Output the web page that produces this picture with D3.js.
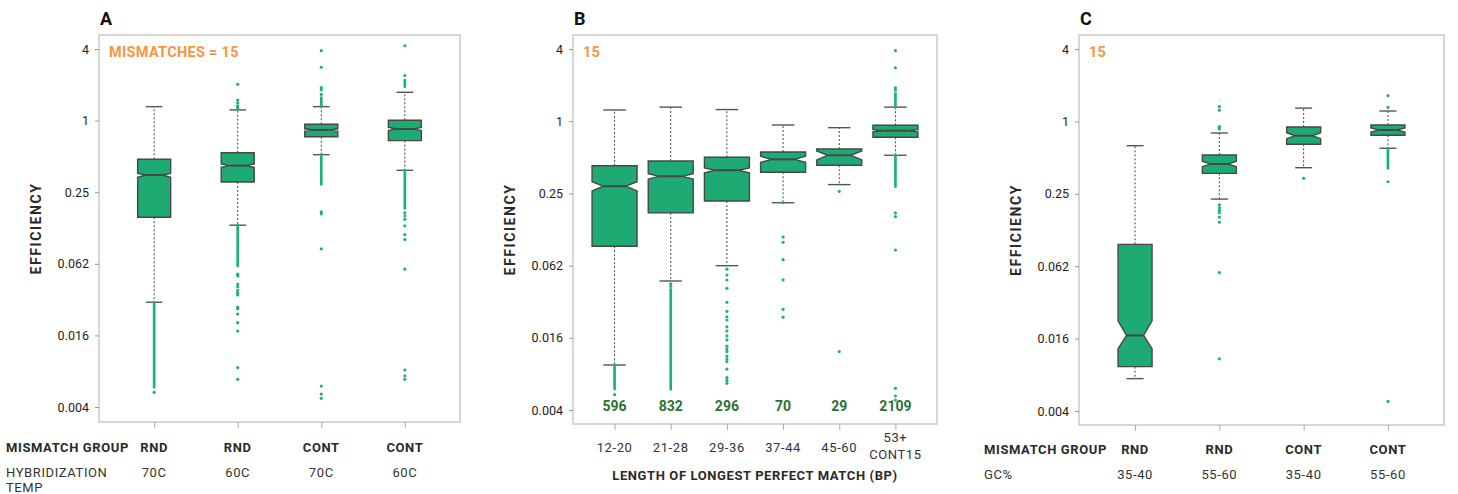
<!DOCTYPE html>
<html>
<head>
<meta charset="utf-8">
<script src="https://cdn.jsdelivr.net/npm/d3@7"></script>
<style>
  body { margin: 0; background: #fff; }
  svg { display: block; font-family: Roboto, "DejaVu Sans", sans-serif; }
</style>
</head>
<body>
<div id="chart"></div>
<script>
// y ticks (log2 axis)
const yTicks = [4, 1, 0.25, 0.0625, 0.015625, 0.00390625];
const yTickLabels = ["4", "1", "0.25", "0.062", "0.016", "0.004"];

// box stats: [low whisker, q1, notch low, median, notch high, q3, high whisker]
// panel A
const groupA = ["RND", "RND", "CONT", "CONT"];
const tempA = ["70C", "60C", "70C", "60C"];
const boxesA = [
  [0.0297, 0.154, 0.333, 0.349, 0.360, 0.473, 1.31],
  [0.132, 0.305, 0.405, 0.418, 0.432, 0.537, 1.23],
  [0.517, 0.732, 0.815, 0.833, 0.853, 0.931, 1.31],
  [0.382, 0.678, 0.825, 0.850, 0.875, 1.006, 1.73]
];
// dense outlier columns [from, to]
const runsA = [
  [[0.00572, 0.0297]],
  [[0.060, 0.132]],
  [[0.291, 0.517], [1.33, 1.56]],
  [[0.183, 0.382], [1.93, 2.19]]
];
const outliersA = [
  [0.00519],
  [2.02, 1.49, 1.41, 1.33, 1.28, 0.0511, 0.0494, 0.0422, 0.0401, 0.0373, 0.0355, 0.0342,
   0.0270, 0.0262, 0.0236, 0.0200, 0.0170, 0.00838, 0.00668],
  [3.87, 2.81, 1.89, 1.81, 1.66, 0.171, 0.164, 0.0835, 0.00586, 0.00502, 0.00462],
  [4.26, 2.39, 0.168, 0.158, 0.148, 0.130, 0.110, 0.100, 0.0563, 0.00800, 0.00713, 0.00668]
];

// panel B
const lengthB = [["12-20"], ["21-28"], ["29-36"], ["37-44"], ["45-60"], ["53+", "CONT15"]];
const countsB = [596, 832, 296, 70, 29, 2109];
const boxesB = [
  [0.00927, 0.0905, 0.262, 0.287, 0.313, 0.425, 1.24],
  [0.0465, 0.172, 0.330, 0.347, 0.365, 0.466, 1.31],
  [0.0624, 0.216, 0.372, 0.390, 0.407, 0.500, 1.25],
  [0.209, 0.375, 0.454, 0.481, 0.510, 0.553, 0.930],
  [0.296, 0.429, 0.475, 0.520, 0.565, 0.586, 0.883],
  [0.520, 0.734, 0.815, 0.833, 0.850, 0.924, 1.31]
];
const runsB = [
  [[0.00584, 0.00927]],
  [[0.00581, 0.0396]],
  [],
  [],
  [],
  [[0.284, 0.520], [1.31, 1.71]]
];
const outliersB = [
  [0.00524],
  [0.0440, 0.0420],
  [0.0583, 0.0522, 0.0474, 0.0404, 0.0309, 0.0260, 0.0234, 0.0220, 0.0193, 0.0178, 0.0162,
   0.0150, 0.0133, 0.0126, 0.0120, 0.0110, 0.0104, 0.00988, 0.00857, 0.00727, 0.00689, 0.00652],
  [0.209, 0.108, 0.0977, 0.0700, 0.0476, 0.0270, 0.0232],
  [0.260, 0.0120],
  [3.87, 2.79, 1.90, 1.82, 0.172, 0.160, 0.0843, 0.00592, 0.00511, 0.00473]
];

// panel C
const groupC = ["RND", "RND", "CONT", "CONT"];
const gcC = ["35-40", "55-60", "35-40", "55-60"];
const boxesC = [
  [0.00726, 0.00913, 0.0129, 0.0166, 0.0220, 0.0950, 0.628],
  [0.226, 0.370, 0.420, 0.442, 0.466, 0.526, 0.801],
  [0.412, 0.645, 0.718, 0.760, 0.806, 0.898, 1.29],
  [0.598, 0.766, 0.816, 0.848, 0.882, 0.934, 1.22]
];
const runsC = [[], [], [], [[0.407, 0.598]]];
const outliersC = [
  [],
  [1.33, 1.24, 0.904, 0.865, 0.202, 0.191, 0.182, 0.174, 0.160, 0.145, 0.0553, 0.0106],
  [0.336],
  [1.64, 1.31, 0.315, 0.00469]
];

const W = 1458, H = 494;
const FILL = "#1eab73", DOT = "#1fb079", EDGE = "#474747",
      ORANGE = "#f7953f", COUNT = "#2b7332", TXT = "#222";

const svg = d3.select("#chart").append("svg")
  .attr("width", W).attr("height", H)
  .attr("viewBox", [0, 0, W, H]);

const panels = [
  { letter: "A", note: "MISMATCHES = 15", boxes: boxesA, runs: runsA, dots: outliersA,
    left: 99, right: 460, top: 35, bottom: 422, yLow: 407, pad: 0.66, boxW: 33 },
  { letter: "B", note: "15", boxes: boxesB, runs: runsB, dots: outliersB,
    left: 573, right: 937, top: 35, bottom: 424, yLow: 410, pad: 0.74, boxW: 45 },
  { letter: "C", note: "15", boxes: boxesC, runs: runsC, dots: outliersC,
    left: 1079, right: 1444, top: 35, bottom: 425, yLow: 411, pad: 0.665, boxW: 34 }
];

panels.forEach(p => {
  const g = svg.append("g");
  const y = d3.scaleLog().base(2)
    .domain([0.00390625, 4])
    .range([p.yLow, 49]);
  const x = d3.scalePoint()
    .domain(d3.range(p.boxes.length))
    .range([p.left, p.right])
    .padding(p.pad);
  p.x = x;

  // frame
  g.append("rect")
    .attr("x", p.left).attr("y", p.top)
    .attr("width", p.right - p.left).attr("height", p.bottom - p.top)
    .attr("fill", "none").attr("stroke", "#c9c9c9").attr("stroke-width", 1.5);

  // y axis
  const yAxis = g.append("g")
    .attr("transform", `translate(${p.left},0)`)
    .call(d3.axisLeft(y).tickValues(yTicks).tickFormat((d, i) => yTickLabels[i])
      .tickSize(4).tickPadding(6));
  yAxis.select(".domain").remove();
  yAxis.selectAll("line").attr("stroke", "#999");
  yAxis.selectAll("text").attr("font-size", 12.5).attr("fill", TXT)
    .attr("font-family", "Roboto");

  // x axis ticks
  const xAxis = g.append("g")
    .attr("transform", `translate(0,${p.bottom})`)
    .call(d3.axisBottom(x).tickSize(6).tickFormat(""));
  xAxis.select(".domain").remove();
  xAxis.selectAll("line").attr("stroke", "#aaa");

  // panel letter + note
  g.append("text").attr("x", p.left + 1).attr("y", 25)
    .attr("font-size", 18).attr("font-weight", 700).attr("fill", "#111")
    .text(p.letter);
  g.append("text").attr("x", p.left + 10).attr("y", 57)
    .attr("font-size", 14.5).attr("font-weight", 700).attr("fill", ORANGE)
    .attr("letter-spacing", 0.3)
    .text(p.note);

  // y title
  g.append("text")
    .attr("transform", `translate(${p.left - 58},${(p.top + p.bottom) / 2}) rotate(-90)`)
    .attr("text-anchor", "middle")
    .attr("font-size", 14).attr("font-weight", 700).attr("fill", "#2a2a2a")
    .attr("letter-spacing", 1.6)
    .text("EFFICIENCY");

  const hw = p.boxW / 2;

  p.boxes.forEach((b, i) => {
    const [lo, q1, nLo, med, nHi, q3, hi] = b;
    const cx = x(i), nw = hw / 2;
    const bg = g.append("g");

    // whiskers
    [[q3, hi], [q1, lo]].forEach(([a, e]) => {
      bg.append("line").attr("x1", cx).attr("x2", cx)
        .attr("y1", y(a)).attr("y2", y(e))
        .attr("stroke", "#444").attr("stroke-width", 1)
        .attr("stroke-dasharray", "2,2");
      bg.append("line").attr("x1", cx - hw / 2).attr("x2", cx + hw / 2)
        .attr("y1", y(e)).attr("y2", y(e))
        .attr("stroke", "#555").attr("stroke-width", 1.4);
    });

    // outlier runs and dots
    p.runs[i].forEach(([a, e]) => {
      bg.append("line").attr("x1", cx).attr("x2", cx)
        .attr("y1", y(a)).attr("y2", y(e))
        .attr("stroke", DOT).attr("stroke-width", 2.7).attr("stroke-linecap", "round");
    });
    bg.selectAll("circle").data(p.dots[i]).join("circle")
      .attr("cx", cx).attr("cy", d => y(d)).attr("r", 1.6)
      .attr("fill", DOT);

    // notched box
    const pts = [
      [cx - hw, y(q1)], [cx - hw, y(nLo)], [cx - nw, y(med)], [cx - hw, y(nHi)],
      [cx - hw, y(q3)], [cx + hw, y(q3)], [cx + hw, y(nHi)], [cx + nw, y(med)],
      [cx + hw, y(nLo)], [cx + hw, y(q1)]
    ];
    bg.append("path")
      .attr("d", d3.line()(pts) + "Z")
      .attr("fill", FILL).attr("stroke", EDGE).attr("stroke-width", 1.4)
      .attr("stroke-linejoin", "miter");
    bg.append("line").attr("x1", cx - nw).attr("x2", cx + nw)
      .attr("y1", y(med)).attr("y2", y(med))
      .attr("stroke", EDGE).attr("stroke-width", 2);
  });
});

// bottom labels
const bold = (sel) => sel.attr("font-weight", 700).attr("fill", "#2a2a2a")
  .attr("letter-spacing", 0.6).attr("font-size", 13);
const reg = (sel) => sel.attr("font-weight", 400).attr("fill", "#333")
  .attr("letter-spacing", 0.6).attr("font-size", 13);

// panel A
const pA = panels[0];
bold(svg.append("text").attr("x", 6).attr("y", 452).text("MISMATCH GROUP"));
reg(svg.append("text").attr("x", 6).attr("y", 477).text("HYBRIDIZATION"));
reg(svg.append("text").attr("x", 6).attr("y", 492).text("TEMP"));
groupA.forEach((t, i) => bold(svg.append("text").attr("x", pA.x(i)).attr("y", 452)
  .attr("text-anchor", "middle").text(t)));
tempA.forEach((t, i) => reg(svg.append("text").attr("x", pA.x(i)).attr("y", 477)
  .attr("text-anchor", "middle").text(t)));

// panel B
const pB = panels[1];
countsB.forEach((c, i) => svg.append("text")
  .attr("x", pB.x(i)).attr("y", 411).attr("text-anchor", "middle")
  .attr("font-size", 14).attr("font-weight", 700).attr("fill", COUNT)
  .text(c));
lengthB.forEach((lines, i) => {
  lines.forEach((t, j) => reg(svg.append("text")
    .attr("x", pB.x(i)).attr("text-anchor", "middle")
    .attr("y", lines.length === 1 ? 452 : 442 + j * 17)
    .text(t)));
});
bold(svg.append("text").attr("x", (pB.left + pB.right) / 2).attr("y", 480)
  .attr("text-anchor", "middle").text("LENGTH OF LONGEST PERFECT MATCH (BP)"));

// panel C
const pC = panels[2];
bold(svg.append("text").attr("x", 984).attr("y", 454).text("MISMATCH GROUP"));
reg(svg.append("text").attr("x", 984).attr("y", 479).text("GC%"));
groupC.forEach((t, i) => bold(svg.append("text").attr("x", pC.x(i)).attr("y", 454)
  .attr("text-anchor", "middle").text(t)));
gcC.forEach((t, i) => reg(svg.append("text").attr("x", pC.x(i)).attr("y", 479)
  .attr("text-anchor", "middle").text(t)));
</script>
</body>
</html>
